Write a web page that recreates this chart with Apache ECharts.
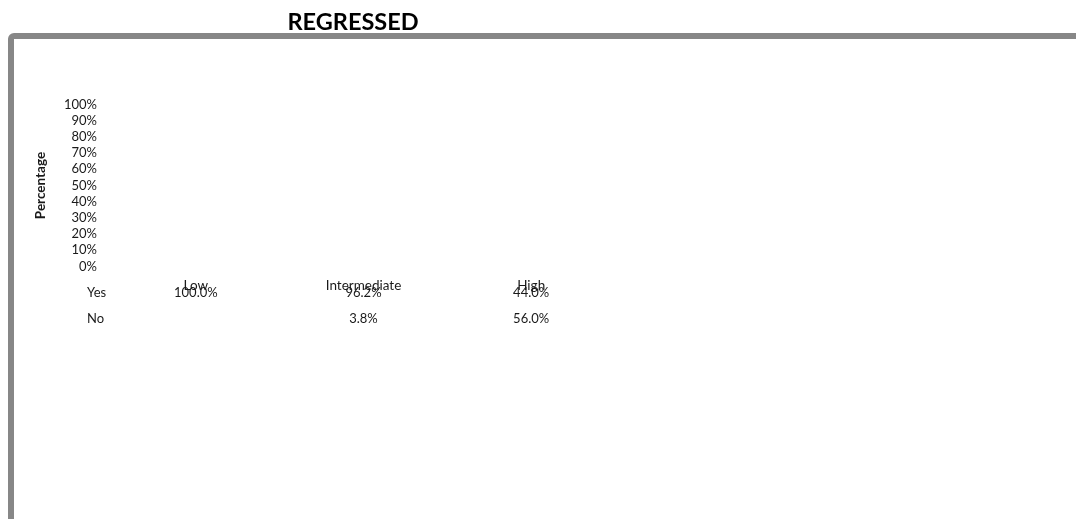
<!DOCTYPE html>
<html>
<head>
<meta charset="utf-8">
<script src="https://cdn.jsdelivr.net/npm/echarts@6/dist/echarts.min.js"></script>
<style>
  html, body { margin: 0; padding: 0; background: #fff; }
  #chart { width: 1076px; height: 519px; }
</style>
</head>
<body>
<div id="chart"></div>
<script>
// Risk groups along the category axis
const categories = ['Low', 'Intermediate', 'High'];
// Share of cases per group (percent); null = no entry in the table
const yesValues = [100.0, 96.2, 44.0];
const noValues = [null, 3.8, 56.0];
// Value-axis ticks
const yTicks = [0, 10, 20, 30, 40, 50, 60, 70, 80, 90, 100];
const rowNames = ['Yes', 'No'];

const FONT = 'Lato, "Open Sans", sans-serif';
const TEXT = '#1a1a1a';

const fmt = v => (v === null || v === undefined) ? '' : v.toFixed(1) + '%';

// One hidden category axis per data-table row, labels read from the series arrays
function tableAxis(name, values, offset) {
  return {
    type: 'category',
    data: categories,
    position: 'bottom',
    offset: offset,
    name: name,
    nameLocation: 'start',
    nameGap: 25,
    nameTextStyle: { fontFamily: FONT, fontSize: 13, color: TEXT, align: 'left', verticalAlign: 'top', padding: [0, 0, 0, 0] },
    axisLine: { show: false },
    axisTick: { show: false },
    splitLine: { show: false },
    axisLabel: {
      margin: 0,
      fontFamily: FONT, fontSize: 13, color: TEXT,
      formatter: (val, idx) => fmt(values[idx])
    }
  };
}

const chart = echarts.init(document.getElementById('chart'), null, { renderer: 'canvas' });

chart.setOption({
  animation: false,
  backgroundColor: '#ffffff',
  title: {
    text: 'REGRESSED',
    left: 348,
    top: 5,
    textAlign: 'center',
    textStyle: { fontFamily: FONT, fontSize: 23.5, fontWeight: 'bold', color: '#000' }
  },
  graphic: [{
    type: 'rect',
    silent: true,
    z: -1,
    shape: { x: 11, y: 36, width: 1200, height: 600, r: 3 },
    style: { fill: 'none', stroke: '#878787', lineWidth: 6 }
  }],
  grid: { left: 112, right: 461, top: 104.5, bottom: 252.5, containLabel: false },
  yAxis: {
    type: 'value',
    min: yTicks[0],
    max: yTicks[yTicks.length - 1],
    interval: yTicks[1] - yTicks[0],
    name: 'Percentage',
    nameLocation: 'middle',
    nameGap: 64,
    nameTextStyle: { fontFamily: FONT, fontSize: 13.5, fontWeight: 'bold', color: TEXT },
    axisLine: { show: false },
    axisTick: { show: false },
    splitLine: { show: false },
    axisLabel: { margin: 15, fontFamily: FONT, fontSize: 13, color: TEXT, formatter: '{value}%' }
  },
  xAxis: [
    {
      type: 'category',
      data: categories,
      position: 'bottom',
      axisLine: { show: false },
      axisTick: { show: false },
      splitLine: { show: false },
      axisLabel: { margin: 12, fontFamily: FONT, fontSize: 13.5, color: TEXT }
    },
    tableAxis(rowNames[0], yesValues, 20),
    tableAxis(rowNames[1], noValues, 46)
  ],
  series: [
    {
      name: rowNames[0], type: 'bar', stack: 'share', xAxisIndex: 0, silent: true,
      itemStyle: { color: 'rgba(0,0,0,0)' }, data: yesValues
    },
    {
      name: rowNames[1], type: 'bar', stack: 'share', xAxisIndex: 0, silent: true,
      itemStyle: { color: 'rgba(0,0,0,0)' }, data: noValues
    }
  ]
});
</script>
</body>
</html>
